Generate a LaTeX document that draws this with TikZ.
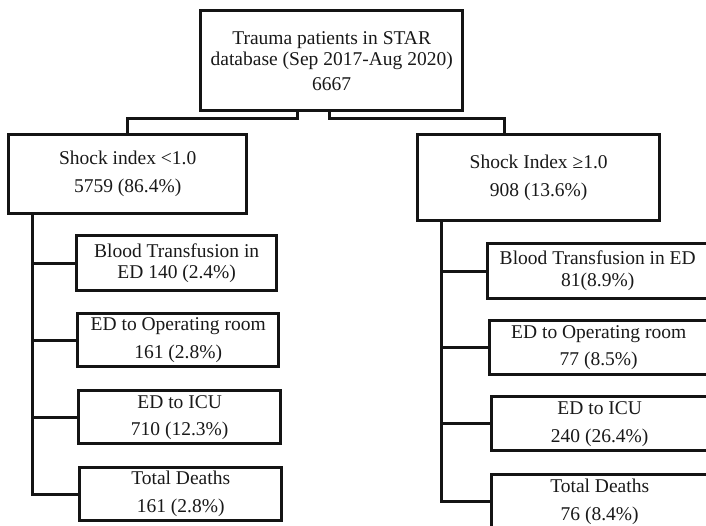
\documentclass[tikz,border=0pt]{standalone}
\usepackage{fontspec}
\setmainfont{Liberation Serif}
\begin{document}
\begin{tikzpicture}[x=1pt,y=-1pt,
  box/.style={draw=black!92, line width=3.4pt, anchor=north west, inner sep=0pt,
    align=center, text=black!90, font=\fontsize{19.5}{21}\selectfont},
  link/.style={draw=black!92, line width=3pt},
]
\useasboundingbox[fill=white] (0,0) rectangle (706,525);

% root
\node[box, minimum width=262pt, minimum height=100pt] (root) at (199,9)
  {Trauma patients in STAR\\database (Sep 2017-Aug 2020)\\[4pt]6667};

% two shock index groups
\node[box, minimum width=238pt, minimum height=79pt] (lo) at (7,133)
  {Shock index <1.0\\[7pt]5759 (86.4\%)};
\node[box, minimum width=242pt, minimum height=86pt] (hi) at (416,133)
  {Shock Index ≥1.0\\[7pt]908 (13.6\%)};

% outcomes, shock index < 1.0
\node[box, minimum width=200pt, minimum height=55pt] (lb) at (75,234)
  {Blood Transfusion in\\ED 140 (2.4\%)};
\node[box, minimum width=201pt, minimum height=53pt] (lor) at (76,312)
  {ED to Operating room\\[7pt]161 (2.8\%)};
\node[box, minimum width=202pt, minimum height=53pt] (licu) at (77,389)
  {ED to ICU\\[6pt]710 (12.3\%)};
\node[box, minimum width=202pt, minimum height=53pt] (ld) at (78,466)
  {Total Deaths\\[7pt]161 (2.8\%)};

% outcomes, shock index >= 1.0
\node[box, minimum width=220pt, minimum height=55pt] (rb) at (486,242)
  {Blood Transfusion in ED\\[1pt]81(8.9\%)};
\node[box, minimum width=218pt, minimum height=54pt] (ror) at (488,319)
  {ED to Operating room\\[6pt]77 (8.5\%)};
\node[box, minimum width=216pt, minimum height=54pt] (ricu) at (490,395)
  {ED to ICU\\[7pt]240 (26.4\%)};
\node[box, minimum width=216pt, minimum height=54pt] (rd) at (490,473)
  {Total Deaths\\[7pt]76 (8.4\%)};

% split from the root
\coordinate (sl) at (297,118);
\coordinate (sr) at (329,118);
\draw[link] (root.south -| sl) -- (sl) -| (lo.north -| 127,0);
\draw[link] (root.south -| sr) -- (sr) -| (hi.north -| 504,0);

% trunks
\coordinate (tl) at (32,0);
\coordinate (tr) at (441,0);
\draw[link] (lo.south -| tl) |- (ld.west);
\draw[link] (tl |- lb.west) -- (lb.west);
\draw[link] (tl |- lor.west) -- (lor.west);
\draw[link] (tl |- licu.west) -- (licu.west);

\draw[link] (hi.south -| tr) |- (rd.west);
\draw[link] (tr |- rb.west) -- (rb.west);
\draw[link] (tr |- ror.west) -- (ror.west);
\draw[link] (tr |- ricu.west) -- (ricu.west);
\end{tikzpicture}
\end{document}
